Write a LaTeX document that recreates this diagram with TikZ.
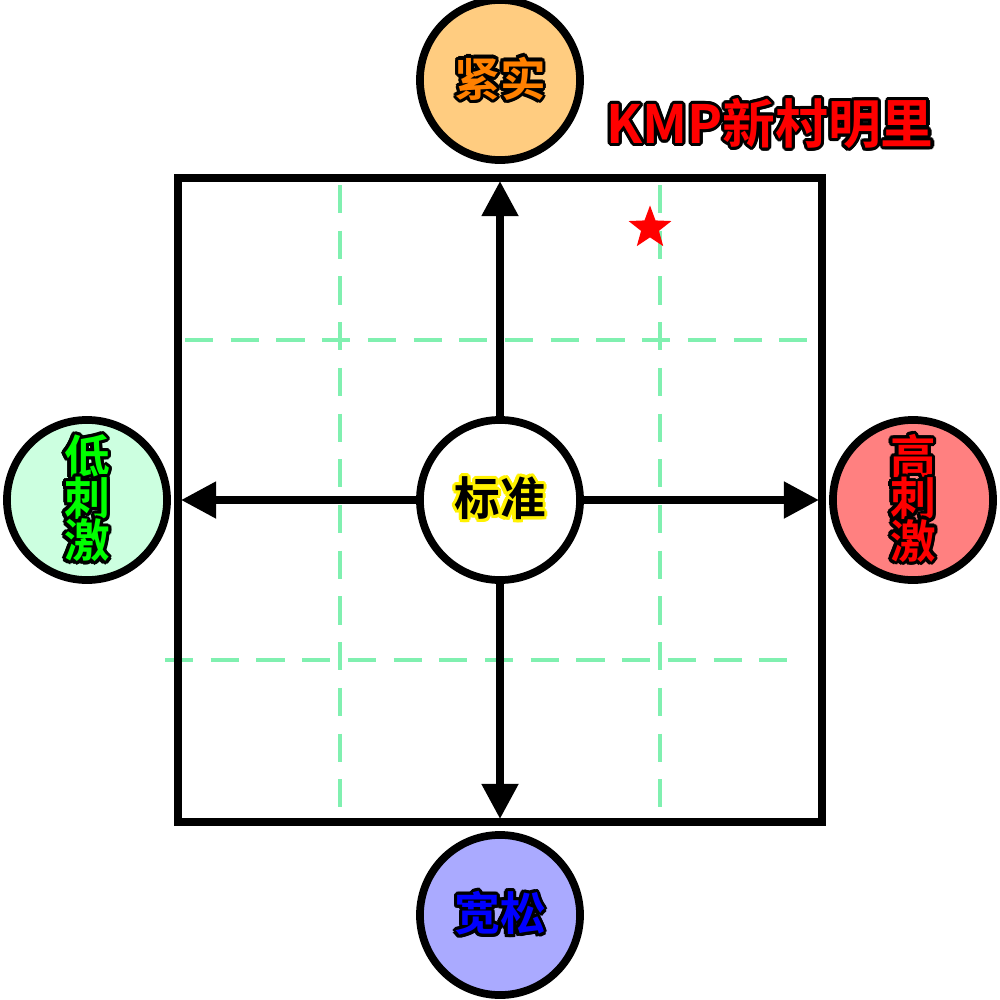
\documentclass[tikz,border=0pt]{standalone}
\usepackage{fontspec}
\usepackage[copies]{contour}
\usetikzlibrary{arrows.meta, positioning, shapes.geometric}
\newfontfamily\cjk{Noto Sans CJK SC Bold}
\definecolor{tightfill}{HTML}{FFCC80}
\definecolor{lowfill}{HTML}{CCFFE0}
\definecolor{highfill}{HTML}{FF8080}
\definecolor{loosefill}{HTML}{AAAAFF}
\definecolor{gridgreen}{HTML}{80F0B0}
\contourlength{0.9pt}

\begin{document}
\begin{tikzpicture}[x=0.01cm,y=-0.01cm,>={Triangle[length=10pt,width=10pt]},
	pole/.style={circle, draw, line width=2.2pt, minimum size=1.6cm, inner sep=0pt, font=\cjk\fontsize{13}{15}\selectfont},
	axis/.style={->, line width=2.2pt}]

	\useasboundingbox (0,0) rectangle (1000,1000);

	% grid
	\draw [gridgreen, line width=1.2pt, dash pattern=on 8pt off 5pt]
	(340,185) -- (340,815)
	(660,185) -- (660,815)
	(185,340) -- (815,340)
	(165,660) -- (805,660);
	\draw [line width=2.2pt] (178,178) rectangle (822,822);

	% poles
	\node (mid) [pole, fill=white] at (500,500) {\contour{yellow}{标准}};
	\node (tight) [pole, fill=tightfill] at (500,80) {\contour{black}{\textcolor{orange}{紧实}}};
	\node (loose) [pole, fill=loosefill] at (500,915) {\contour{black}{\textcolor{blue}{宽松}}};
	\node (low) [pole, fill=lowfill, align=center] at (87,500) {\contour{black}{\textcolor{green}{低}}\\[-3pt]\contour{black}{\textcolor{green}{刺}}\\[-3pt]\contour{black}{\textcolor{green}{激}}};
	\node (high) [pole, fill=highfill, align=center] at (913,500) {\contour{black}{\textcolor{red}{高}}\\[-3pt]\contour{black}{\textcolor{red}{刺}}\\[-3pt]\contour{black}{\textcolor{red}{激}}};

	\coordinate (n) at (500,181);
	\coordinate (s) at (500,819);
	\coordinate (w) at (181,500);
	\coordinate (e) at (819,500);
	\draw [axis] (mid) -- (n);
	\draw [axis] (mid) -- (s);
	\draw [axis] (mid) -- (w);
	\draw [axis] (mid) -- (e);

	% sample
	\node (star) [star, star points=5, star point ratio=2.4, fill=red, inner sep=0pt, minimum size=0.45cm] at (650,228) {};
	\node (title) at (770,125) {\cjk\fontsize{15}{17}\selectfont\contour{black}{\textcolor{red}{KMP新村明里}}};

\end{tikzpicture}
\end{document}
